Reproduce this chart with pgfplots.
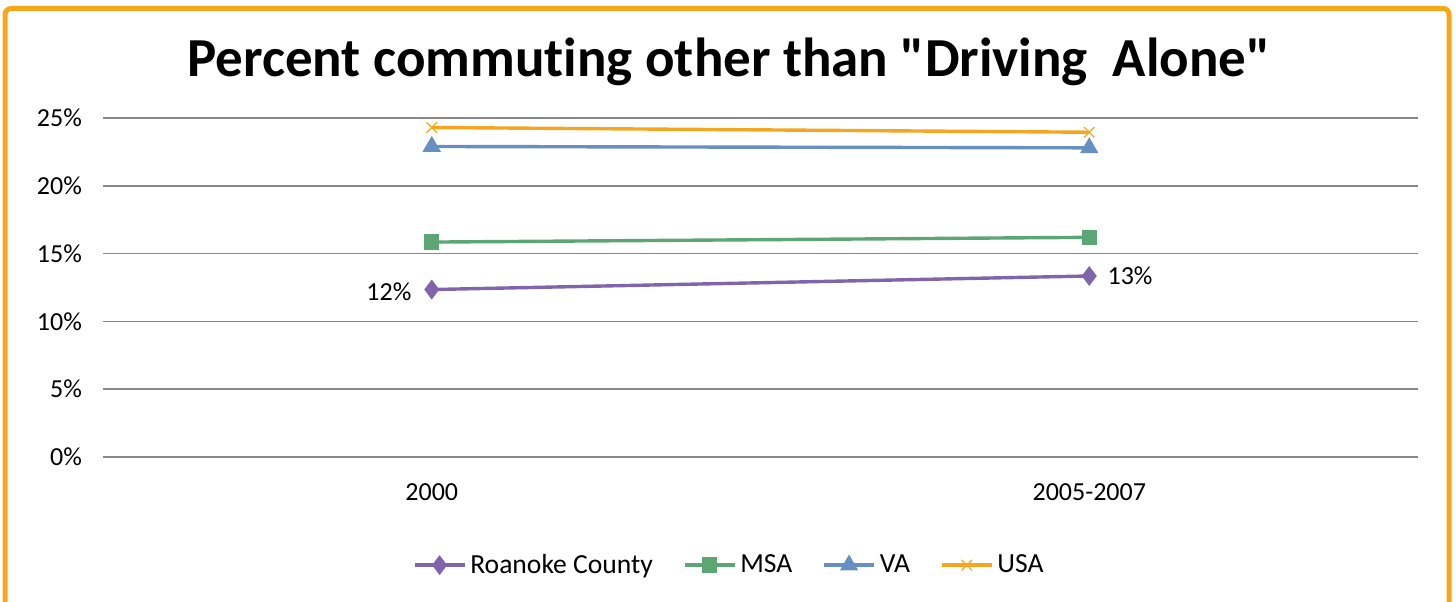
\documentclass[border=0pt]{standalone}
\usepackage{pgfplots}
\pgfplotsset{compat=1.18}
\usepackage{fontspec}
\setmainfont{Carlito}
\newfontfamily\titlefont{Carlito}[Ligatures=ResetAll]
\definecolor{cpurple}{RGB}{128,101,172}
\definecolor{cgreen}{RGB}{92,166,116}
\definecolor{cblue}{RGB}{103,143,194}
\definecolor{corange}{RGB}{246,166,30}
\definecolor{cframe}{RGB}{247,166,26}
\definecolor{cgrid}{RGB}{136,136,136}
\begin{document}
\begin{tikzpicture}[x=1pt,y=1pt]
\useasboundingbox (0,0) rectangle (728,300.5);
\begin{scope}
\clip (0,0) rectangle (728,300.5);
\draw[cframe, line width=2.5pt, rounded corners=3pt] (2.5,-20) rectangle (724.5,296.25);
\end{scope}
\node[anchor=base, font=\titlefont\fontsize{27.5}{32}\selectfont\bfseries] at (364.5,262) {Percent commut\kern0pt ing other than "Driving\ \ Alone"};
\begin{axis}[
  at={(51.5pt,72pt)}, anchor=south west,
  scale only axis, width=657.5pt, height=169.5pt,
  xmin=-0.5, xmax=1.5, ymin=0, ymax=25,
  xtick={0,1}, xticklabels={2000,2005-2007},
  ytick={0,5,10,15,20,25},
  yticklabel={\pgfmathprintnumber{\tick}\%},
  /pgf/number format/assume math mode=true,
  ticklabel style={font=\fontsize{13}{15}\selectfont},
  yticklabel style={xshift=-7pt},
  xticklabel style={yshift=-10pt},
  major tick length=0pt,
  axis line style={draw=none},
  ymajorgrids, grid style={cgrid, line width=0.75pt},
  clip=false,
  legend columns=4,
  legend style={at={(0.477,-0.319)}, anchor=center, draw=none, fill=none,
    font=\fontsize{13.8}{16}\selectfont, column sep=0pt,
    /tikz/every even column/.append style={column sep=13pt}},
  legend image code/.code={\draw[mark repeat=2,mark phase=2] plot coordinates {(0pt,0pt) (12.5pt,0pt) (25pt,0pt)};},
]
\addplot[cpurple, line width=1.7pt, mark=diamond*, mark size=3.6pt, mark options={solid}] coordinates {(0,12.35) (1,13.35)}
  node[pos=0, anchor=east, xshift=-6pt, yshift=-1pt, black, font=\fontsize{13}{15}\selectfont] {12\%}
  node[pos=1, anchor=west, xshift=5pt, black, font=\fontsize{13}{15}\selectfont] {13\%};
\addlegendentry{Roanoke County}
\addplot[cgreen, line width=1.7pt, mark=square*, mark size=3pt] coordinates {(0,15.85) (1,16.2)};
\addlegendentry{MSA}
\addplot[cblue, line width=1.7pt, mark=triangle*, mark size=3.6pt] coordinates {(0,22.9) (1,22.8)};
\addlegendentry{VA}
\addplot[corange, line width=1.7pt, mark=x, mark size=3.7pt, mark options={line width=0.6pt}] coordinates {(0,24.3) (1,23.95)};
\addlegendentry{USA}
\end{axis}
\end{tikzpicture}
\end{document}
